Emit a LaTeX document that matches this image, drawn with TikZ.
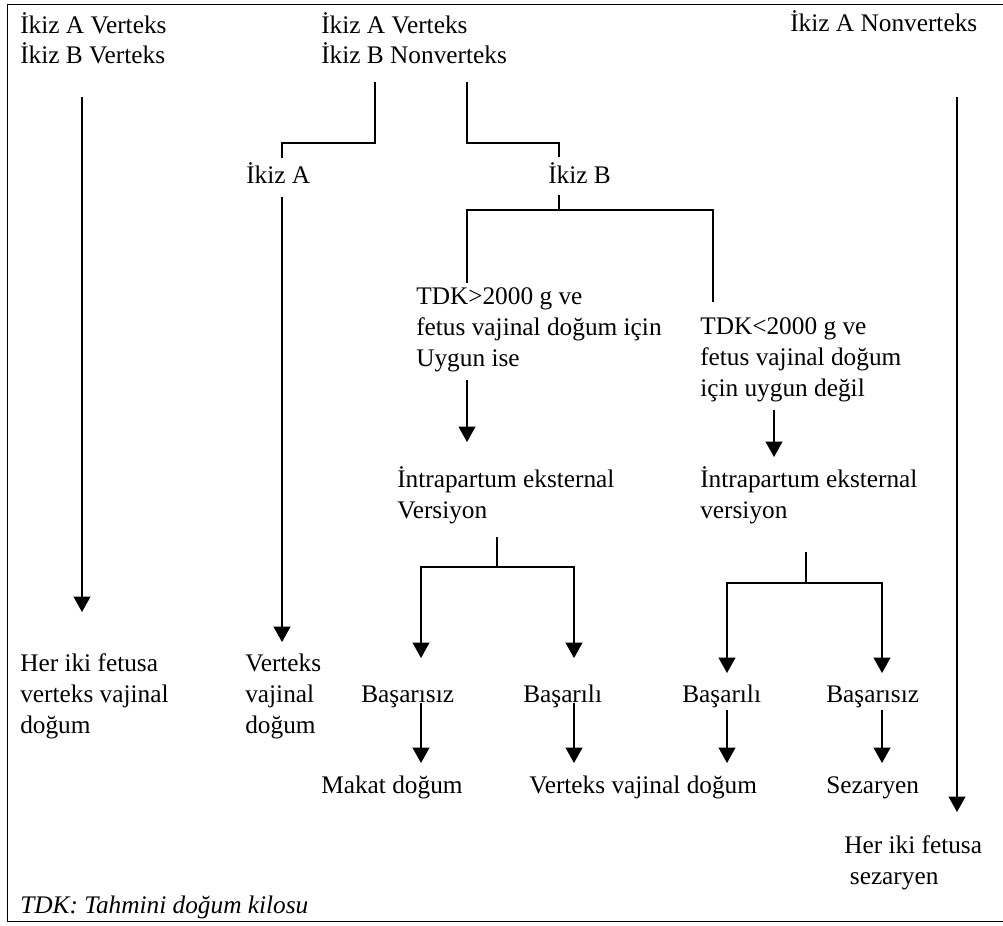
\documentclass[tikz,border=0pt]{standalone}
\usepackage{fontspec}
\setmainfont{Liberation Serif}
\usepackage{tikz}
\usetikzlibrary{arrows.meta}

\begin{document}
\begin{tikzpicture}[
    x=0.025cm, y=-0.025cm,
    txt/.style={anchor=base west, inner sep=0pt, align=left, font=\fontsize{18}{22}\selectfont},
    link/.style={line width=1.1pt},
    arr/.style={link, -{Triangle[width=12pt, length=11pt]}},
]
    \useasboundingbox (0,0) rectangle (1003,925);
    % Frame (no right edge)
    \draw[line width=0.6pt] (1003,4) -- (7,4) -- (7,921) -- (1003,921);

    % Top row (base = last line)
    \node[txt] (vv) at (20,64) {İkiz A Verteks\\İkiz B Verteks};
    \node[txt] (vn) at (321,64) {İkiz A Verteks\\İkiz B Nonverteks};
    \node[txt] (nv) at (790,32) {İkiz A Nonverteks};

    % Twins
    \node[txt] (ikizA) at (246,184) {İkiz A};
    \node[txt] (ikizB) at (548,184) {İkiz B};

    % Weight conditions
    \node[txt] (tdkhi) at (416,366) {TDK>2000 g ve\\fetus vajinal doğum için\\Uygun ise};
    \node[txt] (tdklo) at (700,396) {TDK<2000 g ve\\fetus vajinal doğum\\için uygun değil};

    % Version
    \node[txt] (ievhi) at (397,518) {İntrapartum eksternal\\Versiyon};
    \node[txt] (ievlo) at (700,518) {İntrapartum eksternal\\versiyon};

    % Outcomes
    \node[txt] (bothvag) at (20,733) {Her iki fetusa\\verteks vajinal\\doğum};
    \node[txt] (vertvag) at (245,733) {Verteks\\vajinal\\doğum};
    \node[txt] (fail1) at (361,702) {Başarısız};
    \node[txt] (succ1) at (523,702) {Başarılı};
    \node[txt] (succ2) at (682,702) {Başarılı};
    \node[txt] (fail2) at (826,702) {Başarısız};
    \node[txt] (makat) at (321,793) {Makat doğum};
    \node[txt] (vvd) at (529,793) {Verteks vajinal doğum};
    \node[txt] (sez) at (826,793) {Sezaryen};
    \node[txt] (bothcs) at (844,884) {Her iki fetusa\\\hspace*{4pt}sezaryen};

    % Note
    \node[txt, font=\fontsize{18}{22}\selectfont\itshape] (note) at (20,913) {TDK: Tahmini doğum kilosu};

    % Connector ends
    \coordinate (vv-s) at (82,97);      \coordinate (bothvag-n) at (82,612);
    \coordinate (vnA-s) at (375,82);    \coordinate (ikizA-n) at (282,158);
    \coordinate (vnB-s) at (467,82);    \coordinate (ikizB-n) at (559,157);
    \coordinate (ikizA-s) at (282,197); \coordinate (vertvag-n) at (282,642);
    \coordinate (ikizB-s) at (559,195); \coordinate (split) at (559,210);
    \coordinate (tdkhi-n) at (467,283); \coordinate (tdklo-n) at (713,302);
    \coordinate (tdkhi-s) at (467,380); \coordinate (ievhi-n) at (467,442);
    \coordinate (tdklo-s) at (774,410); \coordinate (ievlo-n) at (774,457);
    \coordinate (ievhi-s) at (497,537); \coordinate (ievlo-s) at (806,552);
    \coordinate (fail1-n) at (421,658); \coordinate (succ1-n) at (574,658);
    \coordinate (succ2-n) at (727,673); \coordinate (fail2-n) at (882,673);
    \coordinate (nv-s) at (957,97);     \coordinate (bothcs-n) at (957,812);

    % Branches
    \draw[arr] (vv-s) -- (bothvag-n);
    \draw[link] (vnA-s) -- ++(0,61) -| (ikizA-n);
    \draw[link] (vnB-s) -- ++(0,61) -| (ikizB-n);
    \draw[arr] (ikizA-s) -- (vertvag-n);
    \draw[link] (ikizB-s) -- (split);
    \draw[link] (tdkhi-n) |- (split) -| (tdklo-n);
    \draw[arr] (tdkhi-s) -- (ievhi-n);
    \draw[arr] (tdklo-s) -- (ievlo-n);
    \draw[link] (ievhi-s) -- ++(0,30) coordinate (hfork);
    \draw[arr] (hfork) -| (fail1-n);
    \draw[arr] (hfork) -| (succ1-n);
    \draw[link] (ievlo-s) -- ++(0,31) coordinate (lfork);
    \draw[arr] (lfork) -| (succ2-n);
    \draw[arr] (lfork) -| (fail2-n);
    \draw[arr] (fail1-n |- 0,703) -- (fail1-n |- 0,763);
    \draw[arr] (succ1-n |- 0,703) -- (succ1-n |- 0,763);
    \draw[arr] (succ2-n |- 0,710) -- (succ2-n |- 0,763);
    \draw[arr] (fail2-n |- 0,710) -- (fail2-n |- 0,763);
    \draw[arr] (nv-s) -- (bothcs-n);

\end{tikzpicture}
\end{document}
